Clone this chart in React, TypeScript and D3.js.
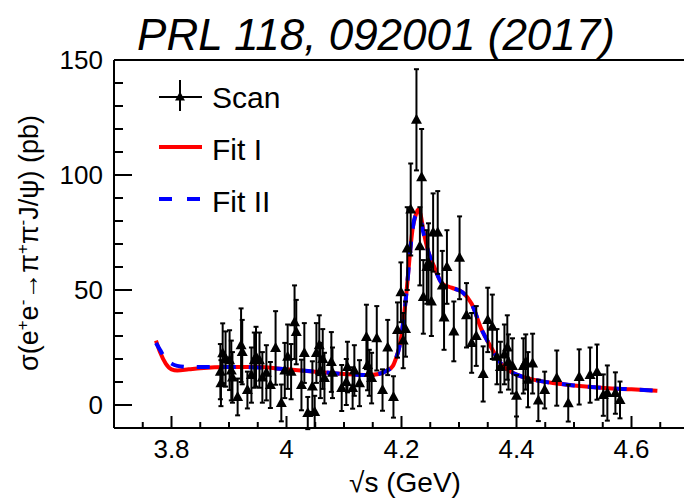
import React from "react";
import * as d3 from "d3";

const title = "PRL 118, 092001 (2017)";
const xTickValues = [3.8, 4.0, 4.2, 4.4, 4.6];
const xTickLabels = ["3.8", "4", "4.2", "4.4", "4.6"];
const yTickValues = [0, 50, 100, 150];
const yTickLabels = ["0", "50", "100", "150"];

// Scan data: energy (GeV), cross section (pb), error (pb)
const scanE = [
  3.885, 3.886, 3.889, 3.894, 3.901, 3.904, 3.906, 3.915, 3.921, 3.923,
  3.932, 3.939, 3.944, 3.947, 3.953, 3.958, 3.965, 3.972, 3.981, 3.991,
  3.997, 4.002, 4.008, 4.014, 4.017, 4.026, 4.031, 4.037, 4.045, 4.049,
  4.052, 4.057, 4.059, 4.063, 4.066, 4.078, 4.08, 4.096, 4.104, 4.106,
  4.115, 4.118, 4.127, 4.139, 4.141, 4.144, 4.148, 4.157, 4.167, 4.176,
  4.186, 4.193, 4.199, 4.203, 4.207, 4.21, 4.216, 4.226, 4.232, 4.235,
  4.238, 4.244, 4.247, 4.252, 4.255, 4.263, 4.271, 4.274, 4.279, 4.291,
  4.301, 4.313, 4.322, 4.33, 4.342, 4.35, 4.358, 4.366, 4.372, 4.379,
  4.384, 4.386, 4.393, 4.4, 4.412, 4.416, 4.42, 4.428, 4.438, 4.449,
  4.47, 4.49, 4.509, 4.528, 4.54, 4.551, 4.558, 4.572, 4.58,
];
const scanSigma = [
  14.5, 9.5, 22.5, 20, 19.5, 15, 12, 3.5, 26, 23,
  6.5, 13, 19.5, 21, 19.5, 12, 14, 8.7, 24.8, 0.9,
  15, 21, 14.5, 36, 31.7, 8.7, 22.6, -3.5, 8, -3,
  22.6, 26, 15, 20, 11.7, 18.7, 14, 7.4, 10, 16.5,
  7.4, 15, 9.5, 29.6, 17.4, 14, 11.7, 29, 6.5, 25,
  3.5, 32.6, 49, 28, 33, 68, 85, 124, 69, 99,
  47, 60, 62, 45, 75, 75, 52, 38, 60, 32,
  64, 39, 27, 30, 13.5, 37, 34, 21, 16.5, 22,
  25, 18.7, 17, 4, 17, 18.7, 11, 18, 2, 6.5,
  11.7, 0.8, 12.2, 13, 14.3, 4.3, 5.2, 5.2, 2.2,
];
const scanErr = [
  12, 10, 13, 12, 13, 13, 11, 8, 16, 14,
  8, 12, 12, 13, 12, 11, 12, 10, 16, 8,
  12, 14, 12, 16, 14, 11, 13, 7, 11, 7,
  13, 13, 12, 13, 11, 13, 11, 10, 10, 11,
  9, 11, 10, 14, 11, 10, 11, 14, 9, 12,
  9, 12, 13, 12, 12, 18, 20, 22, 17, 21,
  16, 16, 17, 15, 17, 18, 15, 14, 16, 13,
  18, 14, 13, 13, 12, 14, 14, 12, 11, 13,
  14, 12, 12, 9, 12, 12, 12, 13, 9, 8,
  12, 8, 12, 12, 12, 9, 12, 9, 8,
];

// Fit curves
const fitE = [
  3.773, 3.78, 3.79, 3.8, 3.81, 3.83, 3.85, 3.9, 3.95, 4.0, 4.05, 4.1, 4.14,
  4.16, 4.175, 4.185, 4.19, 4.197, 4.203, 4.209, 4.214, 4.219, 4.224, 4.229,
  4.233, 4.238, 4.245, 4.257, 4.27, 4.287, 4.306, 4.322, 4.339, 4.356, 4.373,
  4.393, 4.414, 4.44, 4.466, 4.5, 4.553, 4.6, 4.645,
];
const fit1 = [
  28, 23, 18, 15.5, 15, 15.5, 16, 16.5, 16.5, 15.5, 14.5, 13.5, 13,
  13.5, 15, 17, 20, 26, 36, 50, 64, 76, 82, 85,
  83, 76, 68, 60, 53, 51, 49, 44, 33, 25, 18,
  14, 12, 10.5, 9.5, 8.5, 7.4, 6.8, 6.2,
];
const fit2 = [
  27, 24, 20, 18, 17, 16.5, 16.5, 16.5, 16.3, 15.5, 14.5, 13.5, 13,
  13.5, 15, 17, 20, 26, 36, 50, 64, 76, 82, 83,
  81, 75, 68, 60, 53, 51, 49, 44, 33, 25, 18,
  14, 12, 10.5, 9.5, 8.5, 7.4, 6.8, 6.2,
];

const legendLabels = ["Scan", "Fit I", "Fit II"];

const W = 684;
const H = 499;
const FONT = "'Liberation Sans', Arial, Helvetica, sans-serif";

export default function App() {
  const x = d3.scaleLinear().domain([3.7, 4.7]).range([114, 689]);
  const y = d3.scaleLinear().domain([-10, 150]).range([428, 60]);
  const x0 = 114, x1 = 684, yTop = 60, yBot = 428;

  const line = d3
    .line<[number, number]>()
    .x((d) => x(d[0]))
    .y((d) => y(d[1]))
    .curve(d3.curveMonotoneX);
  const d1 = line(fitE.map((e, i) => [e, fit1[i]] as [number, number])) || "";
  const d2 = line(fitE.map((e, i) => [e, fit2[i]] as [number, number])) || "";

  const xMinor = d3.range(3.75, 4.7, 0.05).filter((v) => x(v) <= x1);
  const yMinor = d3.range(-10, 151, 10);

  const tri = (cx: number, cy: number, s: number) =>
    `M${cx},${cy - s * 0.6}L${cx + s * 0.55},${cy + s * 0.4}L${cx - s * 0.55},${cy + s * 0.4}Z`;

  return (
    <svg
      width={W}
      height={H}
      style={{ position: "absolute", left: 0, top: 0, background: "#fff" }}
      fontFamily={FONT}
    >
      <rect x={0} y={0} width={W} height={H} fill="#fff" />
      <text x={376} y={50} fontSize={44} fontStyle="italic" textAnchor="middle" fill="#000">
        {title}
      </text>

      {/* fits */}
      <path d={d1} fill="none" stroke="#ff0000" strokeWidth={4} />
      <path d={d2} fill="none" stroke="#0000ff" strokeWidth={4} strokeDasharray="13,13" />

      {/* scan points */}
      <g stroke="#000" strokeWidth={2}>
        {scanE.map((e, i) => {
          const cx = x(e);
          const yt = y(scanSigma[i] + scanErr[i]);
          const yb = y(scanSigma[i] - scanErr[i]);
          return (
            <g key={i}>
              <line x1={cx} x2={cx} y1={yt} y2={yb} />
              <line x1={cx - 2.5} x2={cx + 2.5} y1={yt} y2={yt} />
              <line x1={cx - 2.5} x2={cx + 2.5} y1={yb} y2={yb} />
            </g>
          );
        })}
      </g>
      <g fill="#000">
        {scanE.map((e, i) => (
          <path key={i} d={tri(x(e), y(scanSigma[i]), 10)} />
        ))}
      </g>

      {/* frame / axes */}
      <g stroke="#000" strokeWidth={2} fill="none">
        <line x1={x0} x2={x1} y1={yTop} y2={yTop} />
        <line x1={x0} x2={x0} y1={yTop} y2={yBot} />
        <line x1={x0} x2={x1} y1={yBot} y2={yBot} />
        {yMinor.map((v, i) => {
          const major = Math.abs(v % 50) < 1e-6;
          return <line key={"ym" + i} x1={x0} x2={x0 + (major ? 18 : 9)} y1={y(v)} y2={y(v)} />;
        })}
        {xMinor.map((v, i) => {
          const major = xTickValues.some((t) => Math.abs(t - v) < 1e-6);
          return <line key={"xm" + i} x1={x(v)} x2={x(v)} y1={yBot} y2={yBot - (major ? 12 : 6)} />;
        })}
      </g>

      {/* tick labels */}
      <g fontSize={26} fill="#000">
        {yTickValues.map((v, i) => (
          <text key={"yl" + i} x={103} y={y(v)} dy="0.36em" textAnchor="end">
            {yTickLabels[i]}
          </text>
        ))}
        {xTickValues.map((v, i) => (
          <text key={"xl" + i} x={x(v)} y={458} textAnchor="middle">
            {xTickLabels[i]}
          </text>
        ))}
      </g>

      {/* axis titles */}
      <text x={405} y={492} fontSize={28} textAnchor="middle" fill="#000">
        √s (GeV)
      </text>
      <text
        transform="translate(38,243) rotate(-90)"
        fontSize={27}
        textAnchor="middle"
        fill="#000"
      >
        <tspan>σ(e</tspan>
        <tspan dy={-10} fontSize={17}>+</tspan>
        <tspan dy={10}>e</tspan>
        <tspan dy={-10} fontSize={17}>-</tspan>
        <tspan dy={10}>→π</tspan>
        <tspan dy={-10} fontSize={17}>+</tspan>
        <tspan dy={10}>π</tspan>
        <tspan dy={-10} fontSize={17}>-</tspan>
        <tspan dy={10}>J/ψ) (pb)</tspan>
      </text>

      {/* legend */}
      <g>
        <line x1={159} x2={202} y1={97} y2={97} stroke="#000" strokeWidth={2} />
        <line x1={180} x2={180} y1={80} y2={111} stroke="#000" strokeWidth={2} />
        <path d={tri(180, 97, 9)} fill="#000" />
        <line x1={159} x2={202} y1={147} y2={147} stroke="#ff0000" strokeWidth={4} />
        <line x1={159} x2={202} y1={199} y2={199} stroke="#0000ff" strokeWidth={4} strokeDasharray="13,15" />
        <g fontSize={30} fill="#000">
          <text x={212} y={108}>{legendLabels[0]}</text>
          <text x={212} y={160}>{legendLabels[1]}</text>
          <text x={212} y={212}>{legendLabels[2]}</text>
        </g>
      </g>
    </svg>
  );
}
